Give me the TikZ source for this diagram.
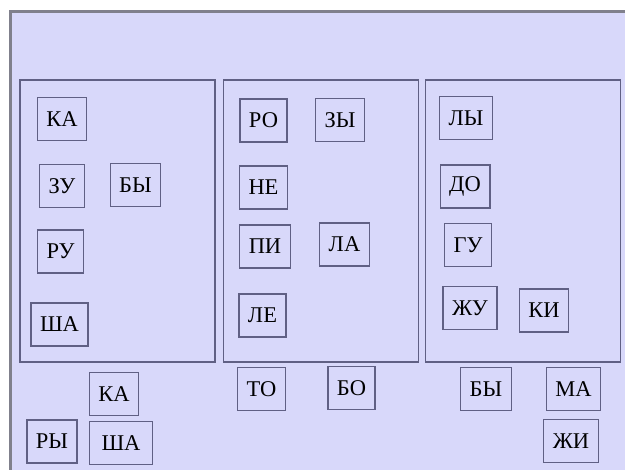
\documentclass[tikz,border=0pt]{standalone}
\usepackage{fontspec}
\setmainfont{Liberation Serif}
\usepackage{xcolor}
\usepackage{tikz}
\definecolor{lavbg}{RGB}{216,216,250}
\definecolor{boxline}{RGB}{96,96,132}
\definecolor{frameline}{RGB}{128,128,140}

\begin{document}
\begin{tikzpicture}[
  x=1pt, y=-1pt,
  panel/.style={draw=boxline, line width=1.4pt, minimum width=195pt, minimum height=282pt, inner sep=0pt},
  tag/.style={draw=boxline, line width=1.4pt, minimum height=43pt, inner xsep=9pt, inner ysep=0pt,
    text=black, font=\fontsize{22.5}{24}\selectfont},
]
\useasboundingbox (0,0) rectangle (625,470);
\fill[white] (0,0) rectangle (625,470);
\fill[lavbg] (10,12) rectangle (625,470);
\draw[frameline, line width=3pt] (625,12) -- (10,12) -- (10,470);

% ---------- panels ----------
\node[panel] (left)  at (117.5,221) {};
\node[panel] (mid)   at (321,221) {};
\node[panel] (right) at (523,221) {};

% ---------- left panel ----------
\node[tag] (ka)  at (62,119)    {КА};
\node[tag] (zu)  at (62,186)    {ЗУ};
\node[tag] (by)  at (135.5,185) {БЫ};
\node[tag] (ru)  at (60.5,251.5){РУ};
\node[tag] (sha) at (59.5,324.5){ША};

% ---------- middle panel ----------
\node[tag] (ro) at (263.5,120.5) {РО};
\node[tag] (zy) at (340,120)     {ЗЫ};
\node[tag] (ne) at (263.5,187.5) {НЕ};
\node[tag] (pi) at (265,246.5)   {ПИ};
\node[tag] (la) at (344.5,244.5) {ЛА};
\node[tag] (le) at (262.5,315.5) {ЛЕ};

% ---------- right panel ----------
\node[tag] (ly) at (466,118)   {ЛЫ};
\node[tag] (do) at (465,186.5) {ДО};
\node[tag] (gu) at (468,245)   {ГУ};
\node[tag] (zhu) at (470,308)  {ЖУ};
\node[tag] (ki) at (544,310.5) {КИ};

% ---------- below the panels ----------
\node[tag] (kab)  at (114,394)   {КА};
\node[tag] (to)   at (261.5,389) {ТО};
\node[tag] (bo)   at (351.5,388) {БО};
\node[tag] (byb)  at (486,389)   {БЫ};
\node[tag] (ma)   at (573.5,389) {МА};
\node[tag] (ry)   at (52,441.5)  {РЫ};
\node[tag, inner xsep=12pt] (shab) at (121,443) {ША};
\node[tag] (zhi)  at (571,441)   {ЖИ};
\end{tikzpicture}
\end{document}
